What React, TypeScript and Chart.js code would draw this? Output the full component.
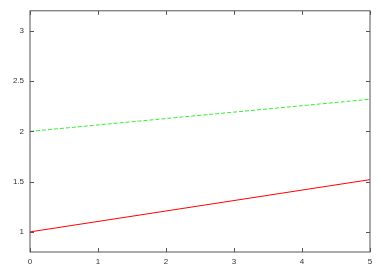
import React, { useEffect, useRef } from "react";
import { Chart, registerables } from "chart.js";

Chart.register(...registerables);

const xValues = [0, 1, 2, 3, 4, 5];
const redValues = [1.0, 1.104, 1.208, 1.312, 1.416, 1.52];
const greenValues = [2.0, 2.064, 2.128, 2.192, 2.256, 2.32];
const xTicks = [0, 1, 2, 3, 4, 5];
const yTicks = [1, 1.5, 2, 2.5, 3];

const boxPlugin = {
  id: "gnuBox",
  afterDraw(chart: any) {
    const { ctx, chartArea } = chart;
    const { left, right, top, bottom } = chartArea;
    const xs = chart.scales.x;
    const ys = chart.scales.y;
    ctx.save();
    ctx.strokeStyle = "#555";
    ctx.lineWidth = 1;
    ctx.strokeRect(left, top, right - left, bottom - top);
    ctx.beginPath();
    const t = 4;
    for (const v of xTicks) {
      const px = Math.round(xs.getPixelForValue(v)) + 0.5;
      ctx.moveTo(px, bottom);
      ctx.lineTo(px, bottom - t);
      ctx.moveTo(px, top);
      ctx.lineTo(px, top + t);
    }
    for (const v of yTicks) {
      const py = Math.round(ys.getPixelForValue(v)) + 0.5;
      ctx.moveTo(left, py);
      ctx.lineTo(left + t, py);
      ctx.moveTo(right, py);
      ctx.lineTo(right - t, py);
    }
    ctx.stroke();
    ctx.restore();
  },
};

export default function App() {
  const ref = useRef<HTMLCanvasElement>(null);
  useEffect(() => {
    const chart = new Chart(ref.current!, {
      type: "line",
      data: {
        datasets: [
          {
            data: xValues.map((x, i) => ({ x, y: redValues[i] })),
            borderColor: "#ff0000",
            borderWidth: 1,
            pointRadius: 0,
            tension: 0,
          },
          {
            data: xValues.map((x, i) => ({ x, y: greenValues[i] })),
            borderColor: "#33ee33",
            borderWidth: 1,
            borderDash: [4, 2],
            pointRadius: 0,
            tension: 0,
          },
        ],
      },
      options: {
        animation: false,
        responsive: false,
        maintainAspectRatio: false,
        layout: { padding: { left: 0, right: 13, top: 9, bottom: 0 } },
        plugins: { legend: { display: false }, tooltip: { enabled: false } },
        scales: {
          x: {
            type: "linear",
            min: 0,
            max: 5,
            grid: { display: false, drawTicks: false },
            border: { display: false },
            afterBuildTicks: (s: any) => {
              s.ticks = xTicks.map((v) => ({ value: v }));
            },
            afterFit: (s: any) => {
              s.height = 16;
            },
            ticks: {
              padding: 5,
              color: "#333",
              font: { family: "Liberation Sans", size: 8 },
              maxRotation: 0,
              callback: (v: any) => String(v),
            },
          },
          y: {
            type: "linear",
            min: 0.8,
            max: 3.2,
            grid: { display: false, drawTicks: false },
            border: { display: false },
            afterBuildTicks: (s: any) => {
              s.ticks = yTicks.map((v) => ({ value: v }));
            },
            afterFit: (s: any) => {
              s.width = 30;
            },
            ticks: {
              padding: 6,
              color: "#333",
              font: { family: "Liberation Sans", size: 8 },
              callback: (v: any) => String(v),
            },
          },
        },
      },
      plugins: [boxPlugin],
    });
    return () => chart.destroy();
  }, []);
  return (
    <div style={{ position: "fixed", left: 0, top: 0, width: 383, height: 268, background: "#fff" }}>
      <canvas ref={ref} width={383} height={268} style={{ width: 383, height: 268 }} />
    </div>
  );
}
